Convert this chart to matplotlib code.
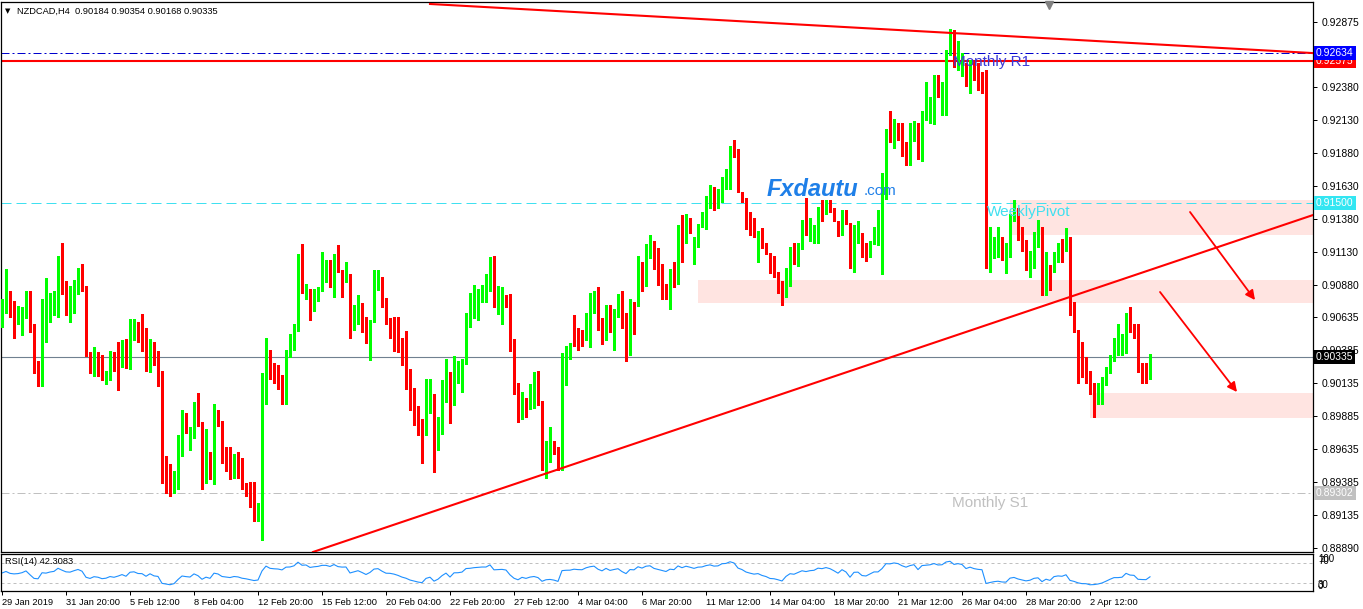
import numpy as np
import pandas as pd
import matplotlib
matplotlib.use('Agg')
import matplotlib.pyplot as plt
from matplotlib import transforms
from matplotlib.patches import Rectangle

plt.rcParams['font.family'] = ['Liberation Sans', 'DejaVu Sans']

# NZDCAD H4 candles (oldest first)
opens = [
    0.9057, 0.9067, 0.9080, 0.9067, 0.9061, 0.9061, 0.9069, 0.9082, 0.9057, 0.9026,
    0.9021, 0.9054, 0.9061, 0.9069, 0.9074, 0.9102, 0.9091, 0.9064, 0.9074, 0.9085,
    0.9096, 0.9085, 0.9037, 0.9025, 0.9035, 0.9032, 0.9017, 0.9019, 0.9030, 0.9042,
    0.9031, 0.9040, 0.9028, 0.9053, 0.9057, 0.9047, 0.9046, 0.9026, 0.9042, 0.9030,
    0.9023, 0.8946, 0.8941, 0.8930, 0.8935, 0.8961, 0.8986, 0.8975, 0.8973, 0.8999,
    0.8984, 0.8944, 0.8961, 0.8939, 0.8992, 0.8985, 0.8958, 0.8951, 0.8945, 0.8953,
    0.8950, 0.8936, 0.8931, 0.8928, 0.8912, 0.8911, 0.9012, 0.9039, 0.9021, 0.9017,
    0.9014, 0.9001, 0.9037, 0.9040, 0.9054, 0.9105, 0.9085, 0.9085, 0.9070, 0.9077,
    0.9083, 0.9095, 0.9096, 0.9079, 0.9111, 0.9099, 0.9095, 0.9096, 0.9055, 0.9060,
    0.9074, 0.9063, 0.9045, 0.9060, 0.9090, 0.9094, 0.9078, 0.9061, 0.9061, 0.9055,
    0.9045, 0.9030, 0.9021, 0.9004, 0.8994, 0.8983, 0.8975, 0.8992, 0.9005, 0.8966,
    0.8977, 0.9002, 0.9022, 0.9010, 0.9021, 0.9023, 0.9028, 0.9065, 0.9068, 0.9073,
    0.9080, 0.9081, 0.9083, 0.9105, 0.9073, 0.9058, 0.9077, 0.9073, 0.9039, 0.9007,
    0.8989, 0.9001, 0.8996, 0.9003, 0.9008, 0.8998, 0.8958, 0.8961, 0.8970, 0.8964,
    0.8949, 0.9034, 0.9039, 0.9056, 0.9051, 0.9048, 0.9046, 0.9064, 0.9073, 0.9063,
    0.9063, 0.9051, 0.9073, 0.9059, 0.9067, 0.9067, 0.9067, 0.9040, 0.9074, 0.9072,
    0.9103, 0.9095, 0.9114, 0.9119, 0.9104, 0.9096, 0.9089, 0.9078, 0.9100, 0.9097,
    0.9132, 0.9121, 0.9136, 0.9107, 0.9122, 0.9133, 0.9136, 0.9148, 0.9155, 0.9146,
    0.9151, 0.9169, 0.9173, 0.9190, 0.9186, 0.9158, 0.9154, 0.9142, 0.9133, 0.9126,
    0.9129, 0.9118, 0.9111, 0.9099, 0.9097, 0.9090, 0.9080, 0.9089, 0.9114, 0.9111,
    0.9120, 0.9130, 0.9126, 0.9126, 0.9132, 0.9145, 0.9143, 0.9150, 0.9146, 0.9136,
    0.9127, 0.9145, 0.9134, 0.9105, 0.9129, 0.9127, 0.9112, 0.9109, 0.9120, 0.9122,
    0.9122, 0.9153, 0.9199, 0.9197, 0.9207, 0.9205, 0.9195, 0.9183, 0.9199, 0.9208,
    0.9186, 0.9218, 0.9221, 0.9227, 0.9240, 0.9233, 0.9234, 0.9263, 0.9273, 0.9253,
    0.9252, 0.9256, 0.9243, 0.9256, 0.9248, 0.9245, 0.9248, 0.9107, 0.9113, 0.9112,
    0.9123, 0.9108, 0.9109, 0.9136, 0.9145, 0.9127, 0.9116, 0.9102, 0.9108, 0.9120,
    0.9123, 0.9084, 0.9102, 0.9099, 0.9109, 0.9116, 0.9114, 0.9123, 0.9067, 0.9053,
    0.9035, 0.9023, 0.9022, 0.9007, 0.9005, 0.9007, 0.9014, 0.9022, 0.9031, 0.9035,
    0.9035, 0.9042, 0.9065, 0.9054, 0.9052, 0.9024, 0.9021, 0.90184,
]
highs = [
    0.9077, 0.9100, 0.9083, 0.9076, 0.9072, 0.9071, 0.9083, 0.9083, 0.9058, 0.9030,
    0.9077, 0.9093, 0.9082, 0.9083, 0.9110, 0.9120, 0.9091, 0.9087, 0.9092, 0.9101,
    0.9104, 0.9087, 0.9037, 0.9041, 0.9037, 0.9035, 0.9023, 0.9038, 0.9037, 0.9045,
    0.9046, 0.9047, 0.9062, 0.9062, 0.9060, 0.9066, 0.9055, 0.9047, 0.9045, 0.9038,
    0.9023, 0.8958, 0.8952, 0.8947, 0.8974, 0.8993, 0.8991, 0.8980, 0.8999, 0.9006,
    0.8984, 0.8979, 0.8961, 0.8998, 0.8993, 0.8985, 0.8965, 0.8965, 0.8960, 0.8961,
    0.8957, 0.8938, 0.8939, 0.8939, 0.8923, 0.9021, 0.9048, 0.9039, 0.9029, 0.9027,
    0.9020, 0.9039, 0.9051, 0.9058, 0.9111, 0.9119, 0.9089, 0.9085, 0.9085, 0.9086,
    0.9113, 0.9107, 0.9107, 0.9111, 0.9118, 0.9099, 0.9105, 0.9096, 0.9073, 0.9080,
    0.9074, 0.9064, 0.9061, 0.9099, 0.9099, 0.9094, 0.9078, 0.9063, 0.9064, 0.9064,
    0.9048, 0.9053, 0.9024, 0.9010, 0.8996, 0.8986, 0.9017, 0.9017, 0.9005, 0.8988,
    0.9016, 0.9032, 0.9022, 0.9034, 0.9030, 0.9032, 0.9067, 0.9082, 0.9088, 0.9085,
    0.9088, 0.9096, 0.9109, 0.9110, 0.9087, 0.9086, 0.9080, 0.9081, 0.9047, 0.9014,
    0.9007, 0.9002, 0.9013, 0.9022, 0.9023, 0.9000, 0.8970, 0.8980, 0.8970, 0.8965,
    0.9036, 0.9042, 0.9044, 0.9065, 0.9055, 0.9054, 0.9067, 0.9082, 0.9083, 0.9086,
    0.9063, 0.9073, 0.9073, 0.9070, 0.9081, 0.9083, 0.9067, 0.9077, 0.9075, 0.9110,
    0.9105, 0.9119, 0.9126, 0.9121, 0.9116, 0.9104, 0.9089, 0.9100, 0.9105, 0.9133,
    0.9141, 0.9142, 0.9139, 0.9124, 0.9134, 0.9143, 0.9155, 0.9164, 0.9162, 0.9161,
    0.9170, 0.9176, 0.9193, 0.9198, 0.9191, 0.9158, 0.9154, 0.9143, 0.9139, 0.9129,
    0.9131, 0.9120, 0.9112, 0.9110, 0.9098, 0.9091, 0.9101, 0.9117, 0.9120, 0.9120,
    0.9137, 0.9154, 0.9139, 0.9133, 0.9147, 0.9152, 0.9152, 0.9152, 0.9146, 0.9136,
    0.9145, 0.9145, 0.9135, 0.9133, 0.9136, 0.9127, 0.9120, 0.9121, 0.9132, 0.9145,
    0.9173, 0.9206, 0.9220, 0.9214, 0.9211, 0.9211, 0.9196, 0.9211, 0.9212, 0.9211,
    0.9220, 0.9242, 0.9230, 0.9247, 0.9247, 0.9242, 0.9266, 0.9282, 0.9281, 0.9273,
    0.9264, 0.9256, 0.9258, 0.9258, 0.9256, 0.9249, 0.9251, 0.9132, 0.9124, 0.9132,
    0.9124, 0.9120, 0.9142, 0.9152, 0.9146, 0.9132, 0.9122, 0.9114, 0.9128, 0.9137,
    0.9132, 0.9113, 0.9103, 0.9113, 0.9120, 0.9123, 0.9131, 0.9124, 0.9075, 0.9054,
    0.9045, 0.9033, 0.9023, 0.9014, 0.9014, 0.9018, 0.9026, 0.9035, 0.9048, 0.9058,
    0.9051, 0.9067, 0.9071, 0.9058, 0.9058, 0.9029, 0.9029, 0.90354,
]
lows = [
    0.9056, 0.9067, 0.9064, 0.9048, 0.9058, 0.9050, 0.9063, 0.9052, 0.9021, 0.9011,
    0.9011, 0.9045, 0.9060, 0.9065, 0.9064, 0.9081, 0.9065, 0.9060, 0.9067, 0.9081,
    0.9083, 0.9034, 0.9021, 0.9019, 0.9019, 0.9016, 0.9013, 0.9016, 0.9023, 0.9008,
    0.9026, 0.9025, 0.9024, 0.9046, 0.9045, 0.9038, 0.9023, 0.9022, 0.9027, 0.9011,
    0.8938, 0.8930, 0.8928, 0.8930, 0.8933, 0.8958, 0.8976, 0.8963, 0.8972, 0.8981,
    0.8933, 0.8938, 0.8941, 0.8937, 0.8981, 0.8953, 0.8947, 0.8941, 0.8942, 0.8942,
    0.8933, 0.8928, 0.8920, 0.8909, 0.8909, 0.8895, 0.8998, 0.9017, 0.9014, 0.9009,
    0.8998, 0.8998, 0.9033, 0.9039, 0.9053, 0.9082, 0.9077, 0.9061, 0.9068, 0.9076,
    0.9083, 0.9090, 0.9086, 0.9079, 0.9098, 0.9079, 0.9090, 0.9048, 0.9054, 0.9058,
    0.9052, 0.9044, 0.9031, 0.9060, 0.9084, 0.9071, 0.9058, 0.9048, 0.9038, 0.9037,
    0.9027, 0.9009, 0.8993, 0.8982, 0.8974, 0.8953, 0.8974, 0.8991, 0.8946, 0.8963,
    0.8975, 0.8999, 0.8983, 0.8997, 0.9014, 0.9007, 0.9028, 0.9056, 0.9063, 0.9061,
    0.9075, 0.9075, 0.9083, 0.9071, 0.9066, 0.9058, 0.9071, 0.9038, 0.9005, 0.8984,
    0.8986, 0.8988, 0.8994, 0.8995, 0.8997, 0.8948, 0.8942, 0.8954, 0.8960, 0.8948,
    0.8948, 0.9012, 0.9032, 0.9042, 0.9039, 0.9042, 0.9046, 0.9041, 0.9067, 0.9054,
    0.9043, 0.9046, 0.9052, 0.9039, 0.9064, 0.9055, 0.9030, 0.9035, 0.9051, 0.9072,
    0.9083, 0.9087, 0.9108, 0.9100, 0.9088, 0.9077, 0.9077, 0.9070, 0.9086, 0.9089,
    0.9105, 0.9120, 0.9127, 0.9104, 0.9117, 0.9132, 0.9130, 0.9146, 0.9145, 0.9146,
    0.9151, 0.9161, 0.9161, 0.9185, 0.9158, 0.9151, 0.9130, 0.9126, 0.9124, 0.9105,
    0.9116, 0.9111, 0.9097, 0.9094, 0.9082, 0.9073, 0.9079, 0.9087, 0.9104, 0.9102,
    0.9115, 0.9126, 0.9121, 0.9120, 0.9120, 0.9136, 0.9142, 0.9143, 0.9136, 0.9125,
    0.9126, 0.9134, 0.9101, 0.9098, 0.9120, 0.9109, 0.9106, 0.9109, 0.9119, 0.9118,
    0.9096, 0.9153, 0.9196, 0.9192, 0.9198, 0.9186, 0.9179, 0.9179, 0.9197, 0.9183,
    0.9182, 0.9213, 0.9211, 0.9210, 0.9230, 0.9217, 0.9217, 0.9262, 0.9253, 0.9251,
    0.9246, 0.9239, 0.9233, 0.9243, 0.9236, 0.9233, 0.9101, 0.9098, 0.9108, 0.9109,
    0.9107, 0.9097, 0.9109, 0.9136, 0.9122, 0.9114, 0.9099, 0.9094, 0.9101, 0.9117,
    0.9080, 0.9080, 0.9084, 0.9098, 0.9105, 0.9105, 0.9114, 0.9065, 0.9052, 0.9014,
    0.9018, 0.9014, 0.9005, 0.8988, 0.8998, 0.8998, 0.9012, 0.9021, 0.9030, 0.9035,
    0.9035, 0.9036, 0.9052, 0.9048, 0.9022, 0.9014, 0.9014, 0.90168,
]
closes = [
    0.9068, 0.9080, 0.9066, 0.9062, 0.9064, 0.9070, 0.9082, 0.9056, 0.9025, 0.9021,
    0.9064, 0.9061, 0.9070, 0.9075, 0.9102, 0.9089, 0.9077, 0.9075, 0.9086, 0.9096,
    0.9085, 0.9036, 0.9024, 0.9036, 0.9031, 0.9017, 0.9020, 0.9030, 0.9024, 0.9031,
    0.9040, 0.9028, 0.9054, 0.9057, 0.9046, 0.9045, 0.9027, 0.9042, 0.9027, 0.9023,
    0.8951, 0.8940, 0.8930, 0.8936, 0.8961, 0.8986, 0.8980, 0.8976, 0.8999, 0.8983,
    0.8945, 0.8961, 0.8948, 0.8992, 0.8984, 0.8957, 0.8951, 0.8945, 0.8953, 0.8949,
    0.8936, 0.8930, 0.8921, 0.8912, 0.8915, 0.8981, 0.9039, 0.9020, 0.9016, 0.9014,
    0.9007, 0.9038, 0.9040, 0.9054, 0.9108, 0.9085, 0.9089, 0.9070, 0.9078, 0.9083,
    0.9096, 0.9096, 0.9089, 0.9111, 0.9098, 0.9095, 0.9096, 0.9055, 0.9064, 0.9074,
    0.9061, 0.9045, 0.9061, 0.9091, 0.9095, 0.9077, 0.9061, 0.9060, 0.9054, 0.9044,
    0.9030, 0.9020, 0.9003, 0.8993, 0.8982, 0.8975, 0.8998, 0.9005, 0.8966, 0.8978,
    0.9002, 0.9022, 0.8984, 0.9022, 0.9023, 0.9029, 0.9066, 0.9069, 0.9076, 0.9080,
    0.9083, 0.9083, 0.9105, 0.9073, 0.9075, 0.9077, 0.9073, 0.9038, 0.9006, 0.8989,
    0.9006, 0.8995, 0.9004, 0.9008, 0.8998, 0.8958, 0.8968, 0.8970, 0.8963, 0.8949,
    0.9035, 0.9039, 0.9040, 0.9050, 0.9047, 0.9046, 0.9064, 0.9075, 0.9081, 0.9062,
    0.9051, 0.9073, 0.9059, 0.9067, 0.9074, 0.9055, 0.9040, 0.9074, 0.9072, 0.9103,
    0.9094, 0.9114, 0.9119, 0.9102, 0.9095, 0.9088, 0.9081, 0.9100, 0.9097, 0.9132,
    0.9121, 0.9136, 0.9130, 0.9123, 0.9134, 0.9136, 0.9148, 0.9155, 0.9149, 0.9151,
    0.9170, 0.9173, 0.9190, 0.9185, 0.9161, 0.9153, 0.9139, 0.9132, 0.9126, 0.9129,
    0.9118, 0.9111, 0.9098, 0.9096, 0.9089, 0.9080, 0.9100, 0.9114, 0.9111, 0.9120,
    0.9130, 0.9126, 0.9131, 0.9133, 0.9145, 0.9143, 0.9149, 0.9145, 0.9137, 0.9127,
    0.9144, 0.9134, 0.9105, 0.9132, 0.9133, 0.9112, 0.9109, 0.9120, 0.9132, 0.9132,
    0.9153, 0.9198, 0.9197, 0.9207, 0.9204, 0.9194, 0.9187, 0.9200, 0.9208, 0.9183,
    0.9219, 0.9223, 0.9227, 0.9240, 0.9233, 0.9235, 0.9264, 0.9273, 0.9258, 0.9266,
    0.9262, 0.9241, 0.9253, 0.9245, 0.9241, 0.9239, 0.9107, 0.9114, 0.9120, 0.9123,
    0.9113, 0.9111, 0.9137, 0.9142, 0.9126, 0.9116, 0.9105, 0.9109, 0.9120, 0.9123,
    0.9084, 0.9099, 0.9086, 0.9111, 0.9116, 0.9113, 0.9123, 0.9067, 0.9054, 0.9034,
    0.9022, 0.9021, 0.9005, 0.9006, 0.9009, 0.9014, 0.9023, 0.9033, 0.9042, 0.9042,
    0.9044, 0.9065, 0.9054, 0.9052, 0.9023, 0.9021, 0.9020, 0.90335,
]

date_labels = ['29 Jan 2019', '31 Jan 20:00', '5 Feb 12:00', '8 Feb 04:00', '12 Feb 20:00',
               '15 Feb 12:00', '20 Feb 04:00', '22 Feb 20:00', '27 Feb 12:00', '4 Mar 04:00',
               '6 Mar 20:00', '11 Mar 12:00', '14 Mar 04:00', '18 Mar 20:00', '21 Mar 12:00',
               '26 Mar 04:00', '28 Mar 20:00', '2 Apr 12:00']
bars_per_label = 16

price_ticks = [0.92875, 0.92380, 0.92130, 0.91880, 0.91630, 0.91380, 0.91130, 0.90880,
               0.90635, 0.90385, 0.90135, 0.89885, 0.89635, 0.89385, 0.89135, 0.88890]

blue_level = 0.92634
monthly_r1 = 0.92575
weekly_pivot = 0.91500
monthly_s1 = 0.89302
rsi_period = 14
rsi_shown = '42.3083'

# drawn objects (bar index, price)
upper_trend_x = [107, 327.75]
upper_trend_y = [0.93008, 0.92636]
lower_trend_x = [77.75, 327.75]
lower_trend_y = [0.88856, 0.91409]
zone_start = [252, 174, 272]
zone_low = [0.9126, 0.9074, 0.8987]
zone_high = [0.9152, 0.9092, 0.9006]
arrow_from = [(297.0, 0.91432), (289.5, 0.90826)]
arrow_to = [(313.25, 0.90765), (308.75, 0.90068)]

BULL = '#00FF00'
BEAR = '#FF0000'

W, H = 1363, 609
fig = plt.figure(figsize=(W / 100, H / 100), dpi=100)
fig.patch.set_facecolor('white')


def px_box(x0, y0, x1, y1):
    return [x0 / W, 1 - y1 / H, (x1 - x0) / W, (y1 - y0) / H]


ax = fig.add_axes(px_box(1, 2, 1313, 552))
ax_rsi = fig.add_axes(px_box(1, 554, 1313, 591))
XMIN, XMAX = -0.25, 327.75
ax.set_xlim(XMIN, XMAX)
ax.set_ylim(0.88856, 0.93023)

o = np.array(opens)
h = np.array(highs)
l = np.array(lows)
c = np.array(closes)
x = np.arange(len(c))
colors = np.where(c >= o, BULL, BEAR)

# zones first, so candles sit on top
for xs, lo, hi in zip(zone_start, zone_low, zone_high):
    ax.add_patch(Rectangle((xs, lo), XMAX - xs, hi - lo, fc='#FFE4E1', ec='none', zorder=1))

ax.axhline(blue_level, color='#0000CD', lw=0.72, dashes=(8, 3, 2, 3), zorder=2)
ax.axhline(monthly_r1, color='#FF0000', lw=1.5, zorder=2)
ax.axhline(weekly_pivot, color='#40E0F0', lw=0.72, dashes=(10, 5), zorder=2)
ax.axhline(monthly_s1, color='#C0C0C0', lw=0.72, dashes=(8, 3, 2, 3), zorder=2)
ax.axhline(c[-1], color='#708090', lw=0.8, zorder=2)

top = np.maximum(h, np.maximum(o, c))
bot = np.minimum(l, np.minimum(o, c))
ax.vlines(x, bot, top, colors=colors, lw=0.75, antialiased=False, zorder=3)
body = np.maximum(np.abs(c - o), 0.00008)
ax.bar(x, body, bottom=np.minimum(o, c), width=0.75, color=colors, lw=0,
       antialiased=False, zorder=3)

ax.plot(upper_trend_x, upper_trend_y, color='#FF0000', lw=1.5, zorder=4)
ax.plot(lower_trend_x, lower_trend_y, color='#FF0000', lw=1.5, zorder=4)
for p0, p1 in zip(arrow_from, arrow_to):
    ax.annotate('', xy=p1, xytext=p0,
                arrowprops=dict(arrowstyle='-|>', color='#FF0000', lw=1.3,
                                mutation_scale=14, shrinkA=0, shrinkB=0), zorder=5)

ax.text(237.75, 0.92568, 'Monthly R1', color='#3A3AD8', fontsize=11, va='center', zorder=5)
ax.text(246.25, 0.91432, 'WeeklyPivot', color='#40E0F0', fontsize=11, va='center', zorder=5)
ax.text(237.5, 0.89227, 'Monthly S1', color='#C0C0C0', fontsize=11, va='center', zorder=5)
ax.text(191.25, 0.91606, 'Fxdautu', color='#1E7FE8', fontsize=17, fontweight='bold',
        fontstyle='italic', va='center', zorder=5)
ax.text(215.5, 0.91590, '.com', color='#1E7FE8', fontsize=11, va='center', zorder=5)

ax.plot(261.75, 0.93000, marker='v', ms=6, color='#808080', clip_on=False, zorder=6)

ax.set_xticks([])
ax.yaxis.tick_right()
ax.set_yticks(price_ticks)
ax.set_yticklabels([f'{p:.5f}' for p in price_ticks])
ax.tick_params(axis='y', length=3, width=0.72, pad=3, labelsize=7.5)
for sp in ax.spines.values():
    sp.set_linewidth(0.9)

# price tags on the right scale
tag_tr = transforms.blended_transform_factory(ax.transAxes, ax.transData)
for price, fc, z in [(monthly_r1, '#FF0000', 7), (blue_level, '#0000FF', 8),
                     (weekly_pivot, '#33E6F2', 7), (c[-1], '#000000', 7),
                     (monthly_s1, '#C0C0C0', 7)]:
    ax.text(1.0 + 3 / 1312, price, f'{price:.5f}', transform=tag_tr, ha='left', va='center',
            color='white', fontsize=7.5, clip_on=False, zorder=z,
            bbox=dict(boxstyle='square,pad=0.18', fc=fc, ec='none'))

fig.text(17 / W, 1 - 11 / H, 'NZDCAD,H4  0.90184 0.90354 0.90168 0.90335', fontsize=6.7,
         va='center', ha='left')
fig.text(5 / W, 1 - 11 / H, '▼', fontsize=5, va='center', ha='left',
         family=['DejaVu Sans'])

# RSI(14) from the closes above (Wilder smoothing)
delta = pd.Series(c).diff()
seed = delta.abs().iloc[1:rsi_period + 1].mean() / 2
gain = delta.clip(lower=0).fillna(seed)
loss = (-delta.clip(upper=0)).fillna(seed)
avg_gain = gain.ewm(alpha=1 / rsi_period, adjust=False).mean()
avg_loss = loss.ewm(alpha=1 / rsi_period, adjust=False).mean()
rsi = 100 - 100 / (1 + avg_gain / avg_loss)

ax_rsi.set_xlim(XMIN, XMAX)
ax_rsi.set_ylim(14, 88)
ax_rsi.axhline(70, color='#C0C0C0', lw=0.72, dashes=(3, 3))
ax_rsi.axhline(30, color='#C0C0C0', lw=0.72, dashes=(3, 3))
ax_rsi.plot(x, rsi, color='#1E90FF', lw=0.8)
ax_rsi.text(4 / 1312, 0.93, f'RSI({rsi_period}) {rsi_shown}', transform=ax_rsi.transAxes,
            fontsize=6.7, va='top', ha='left')
ax_rsi.set_yticks([])
for sp in ax_rsi.spines.values():
    sp.set_linewidth(0.9)
rsi_tr = transforms.blended_transform_factory(ax_rsi.transAxes, ax_rsi.transData)
for lev, txt in [(77, '100'), (74, '70'), (26, '30'), (24, '0')]:
    ax_rsi.text(1.0 + 5 / 1312, lev, txt, transform=rsi_tr, fontsize=7, va='center',
                ha='left', clip_on=False)

ax_rsi.set_xticks(np.arange(len(date_labels)) * bars_per_label)
ax_rsi.set_xticklabels(date_labels, ha='left')
ax_rsi.tick_params(axis='x', length=3, width=0.72, pad=2, labelsize=6.7)

fig.savefig('out.png', dpi=100, facecolor='white')
